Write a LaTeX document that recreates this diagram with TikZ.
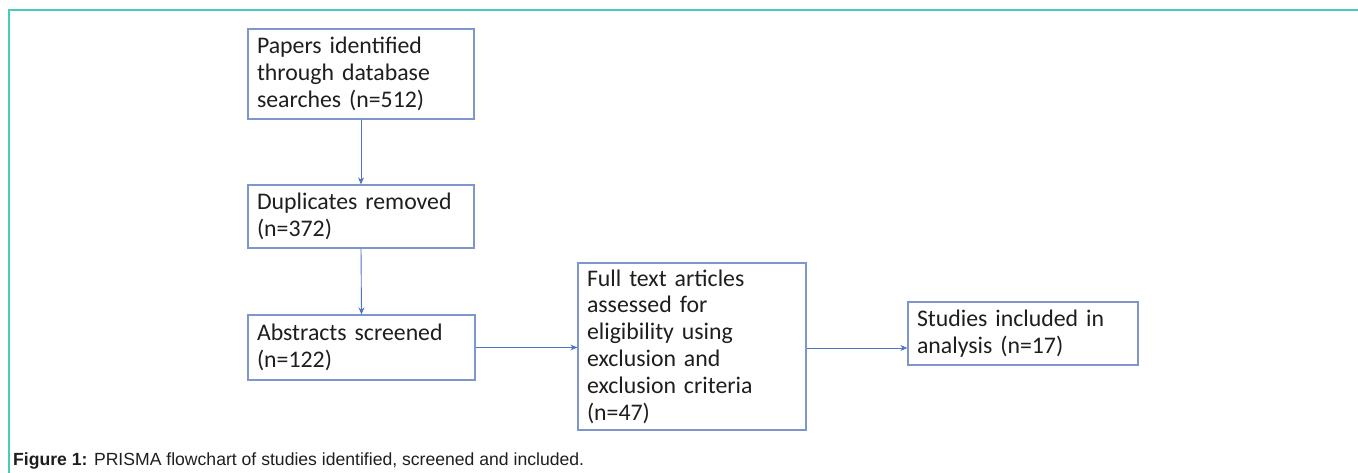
\documentclass[tikz,border=0pt]{standalone}
\usepackage{fontspec}
\setmainfont{Carlito}
\newfontfamily\capfont{Liberation Sans}
\usetikzlibrary{arrows.meta}
\definecolor{frameteal}{RGB}{70,205,185}
\definecolor{boxblue}{RGB}{125,150,205}
\definecolor{arrblue}{RGB}{80,115,195}
\definecolor{txt}{RGB}{30,30,30}
\tikzset{
  flowbox/.style={draw=boxblue, line width=1.3pt, text=txt, align=left, inner sep=0pt,
    font=\fontsize{23.8}{26.8}\selectfont},
  flowarrow/.style={draw=arrblue, line width=0.9pt, -{Stealth[length=7pt,width=6pt]}},
}
\begin{document}
\begin{tikzpicture}[x=1pt,y=-1pt]
\useasboundingbox (0,0) rectangle (1358,473);
\draw[frameteal, line width=1.5pt] (9,473) -- (9,10) -- (1358,10);
\node[flowbox, minimum width=226pt, minimum height=90pt, text width=208pt] (b1) at (361,74)
  {Papers identified\\through database\\searches (n=512)};
\node[flowbox, minimum width=226pt, minimum height=63pt, text width=208pt] (b2) at (361,216.5)
  {Duplicates removed\\(n=372)};
\node[flowbox, minimum width=227pt, minimum height=65pt, text width=209pt] (b3) at (361.5,347.5)
  {Abstracts screened\\(n=122)};
\node[flowbox, minimum width=228pt, minimum height=167pt, text width=210pt] (b4) at (692,346.5)
  {Full text articles\\assessed for\\eligibility using\\exclusion and\\exclusion criteria\\(n=47)};
\node[flowbox, minimum width=230pt, minimum height=63pt, text width=212pt] (b5) at (1023,333.5)
  {Studies included in\\analysis (n=17)};
\draw[flowarrow] (b1.south) -- (b2.north);
\draw[flowarrow] (b2.south) -- (b3.north);
\draw[flowarrow] (b3.east) -- (b3.east -| b4.west);
\draw[flowarrow] (b4.east |- 0,348) -- (b5.west |- 0,348);
\node[anchor=base west, inner sep=0pt, text=txt, font=\capfont\fontsize{17.6}{20}\selectfont] (cap) at (13,465)
  {\textbf{Figure 1:} PRISMA flowchart of studies identified, screened and included.};
\end{tikzpicture}
\end{document}
